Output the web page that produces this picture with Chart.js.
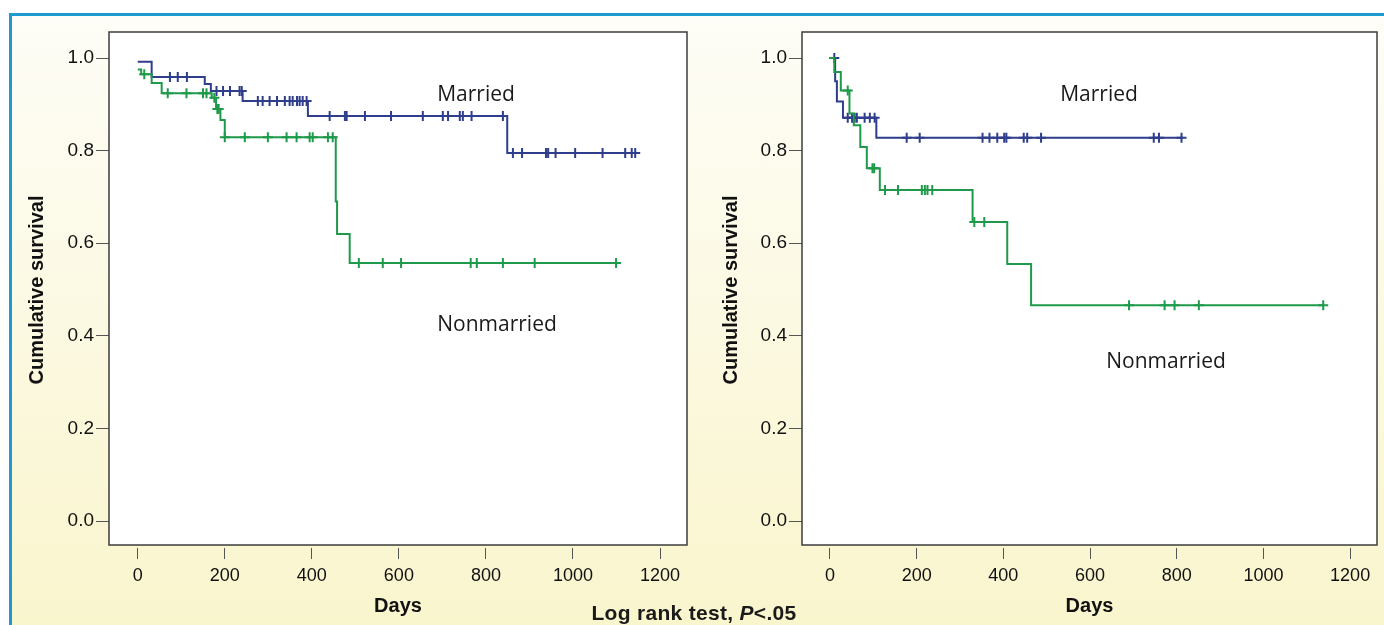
<!DOCTYPE html>
<html><head><meta charset="utf-8">
<script src="https://cdn.jsdelivr.net/npm/chart.js@4.4.1/dist/chart.umd.min.js"></script>
<style>
html,body{margin:0;padding:0;background:#fff;width:1384px;height:625px;overflow:hidden}
#panel{position:absolute;left:9px;top:13px;width:1375px;height:612px;border-top:3px solid #1d9bd1;border-left:3px solid #1d9bd1;background:linear-gradient(#fefdf7,#f9f5cd);box-sizing:border-box}
canvas{position:absolute;top:0}
.lbl{position:absolute;font-family:"Open Sans";font-size:21px;color:#1a1a1a;transform:translate(-50%,-50%);white-space:nowrap}
#note{position:absolute;left:694px;top:613px;transform:translate(-50%,-50%);font-family:"Liberation Sans";font-weight:bold;font-size:21px;letter-spacing:0.3px;color:#1a1a1a;white-space:nowrap}
</style></head>
<body>
<div id="panel"></div>
<canvas id="c1" width="700" height="625" style="left:0"></canvas>
<canvas id="c2" width="684" height="625" style="left:700px"></canvas>
<div class="lbl" style="left:476px;top:93px">Married</div>
<div class="lbl" style="left:497px;top:323px">Nonmarried</div>
<div class="lbl" style="left:1099px;top:93px">Married</div>
<div class="lbl" style="left:1166px;top:360px">Nonmarried</div>
<div id="note">Log rank test, <i>P</i>&lt;.05</div>
<script>
const xTicks=[0,200,400,600,800,1000,1200];
const yTicks=[0,0.2,0.4,0.6,0.8,1.0];

// Left panel
const leftMarriedT=[0,32,154,168,241,391,849,1143];
const leftMarriedS=[0.992,0.959,0.944,0.929,0.907,0.875,0.795,0.795];
const leftMarriedC=[74,92,113,181,196,212,234,239,276,287,303,320,338,349,356,366,372,379,388,441,476,480,522,582,655,701,713,740,747,767,839,862,883,938,943,960,1005,1068,1120,1135,1143];
const leftNonT=[0,8,32,55,170,180,190,200,455,458,487,1099];
const leftNonS=[0.975,0.965,0.946,0.924,0.914,0.89,0.866,0.829,0.69,0.62,0.557,0.557];
const leftNonC=[15,69,112,150,158,176,183,186,200,246,299,342,365,395,402,437,448,508,563,605,765,779,839,912,1099];

// Right panel
const rightMarriedT=[0,12,16,30,107,815];
const rightMarriedS=[1.0,0.95,0.906,0.871,0.828,0.828];
const rightMarriedC=[10,41,51,57,62,80,92,103,177,207,352,368,386,402,407,447,455,487,747,759,811];
const rightNonT=[0,10,25,45,55,70,85,115,329,409,464,1138];
const rightNonS=[1.0,0.97,0.93,0.88,0.855,0.808,0.762,0.715,0.646,0.555,0.466,0.466];
const rightNonC=[41,98,102,127,157,212,219,225,236,333,356,690,772,795,851,1138];

const BLUE='#2e3d8c', GREEN='#1f9a4a';

function stepAt(T,S,t){let v=S[0];for(let i=0;i<T.length;i++){if(T[i]<=t)v=S[i];}return v;}
function curve(T,S){return T.map((t,i)=>({x:t,y:S[i]}));}
function cens(T,S,C){return C.map(t=>({x:t,y:stepAt(T,S,t)}));}

const frame={id:'frame',
 beforeDraw(ch){const a=ch.chartArea,c=ch.ctx;c.save();c.fillStyle='#fff';c.fillRect(a.left,a.top,a.right-a.left,a.bottom-3-a.top);c.restore();},
 afterDatasetsDraw(ch){const a=ch.chartArea,c=ch.ctx;c.save();c.strokeStyle='#3d3d3d';c.lineWidth=1.5;c.strokeRect(a.left,a.top,a.right-a.left,a.bottom-3-a.top);c.restore();}};

function lineDs(T,S,col){return {data:curve(T,S),borderColor:col,borderWidth:2,stepped:true,pointRadius:0,fill:false,clip:false};}
function censDs(T,S,C,col){return {data:cens(T,S,C),showLine:false,pointStyle:'cross',pointRadius:5,pointBorderWidth:2,borderColor:col,backgroundColor:col,clip:false};}

function make(id,xMin,yW,padR,yTitlePad,mT,mS,mC,nT,nS,nC){
 new Chart(document.getElementById(id),{type:'line',
  data:{datasets:[lineDs(nT,nS,GREEN),censDs(nT,nS,nC,GREEN),lineDs(mT,mS,BLUE),censDs(mT,mS,mC,BLUE)]},
  options:{responsive:false,animation:false,devicePixelRatio:1,
   layout:{padding:{top:32,right:padR,left:0,bottom:0}},
   plugins:{legend:{display:false},tooltip:{enabled:false}},
   scales:{
    x:{type:'linear',min:xMin,max:1262,
     afterBuildTicks:s=>{s.ticks=xTicks.map(v=>({value:v}));},
     afterFit:s=>{s.height=77;},
     border:{display:false},
     grid:{drawOnChartArea:false,drawTicks:true,tickLength:11,tickColor:'#555',lineWidth:1},
     ticks:{color:'#111',font:{family:'Liberation Sans',size:18},padding:6,maxRotation:0,autoSkip:false,callback:v=>String(v)},
     title:{display:true,text:'Days',color:'#111',font:{family:'Liberation Sans',size:20,weight:'bold'},padding:{top:0,bottom:7}}},
    y:{type:'linear',min:-0.0583,max:1.0562,
     afterBuildTicks:s=>{s.ticks=yTicks.map(v=>({value:v}));},
     afterFit:s=>{s.width=yW;},
     border:{display:false},
     grid:{drawOnChartArea:false,drawTicks:true,tickLength:13,tickColor:'#555',lineWidth:1},
     ticks:{color:'#111',font:{family:'Liberation Sans',size:19},padding:2,callback:v=>Number(v).toFixed(1)},
     title:{display:true,text:'Cumulative survival',color:'#111',font:{family:'Liberation Sans',size:20,weight:'bold'},padding:{top:yTitlePad,bottom:0}}}
   }},
  plugins:[frame]});
}
make('c1',-66,109,13,25,leftMarriedT,leftMarriedS,leftMarriedC,leftNonT,leftNonS,leftNonC);
make('c2',-64.5,102,5,19,rightMarriedT,rightMarriedS,rightMarriedC,rightNonT,rightNonS,rightNonC);
</script>
</body></html>
